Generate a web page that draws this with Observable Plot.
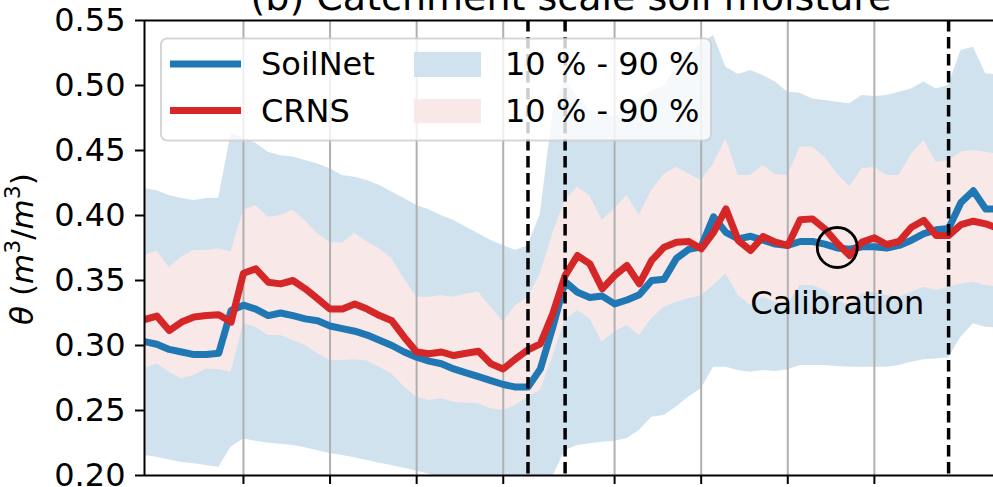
<!DOCTYPE html>
<html><head><meta charset="utf-8">
<script src="https://cdn.jsdelivr.net/npm/d3@7"></script>
<script src="https://cdn.jsdelivr.net/npm/@observablehq/plot@0.6"></script>
<style>
html,body{margin:0;padding:0;background:#fff;}
#wrap{position:relative;width:993px;height:487px;overflow:hidden;font-family:"DejaVu Sans",sans-serif;}
#overlay{position:absolute;left:0;top:0;pointer-events:none;}
</style></head><body>
<div id="wrap"></div>
<script>
// time step index (one point per sample)
const step = [0,1,2,3,4,5,6,7,8,9,10,11,12,13,14,15,16,17,18,19,20,21,22,23,24,25,26,27,28,29,30,31,32,33,34,35,36,37,38,39,40,41,42,43,44,45,46,47,48,49,50,51,52,53,54,55,56,57,58,59,60,61,62,63,64,65,66,67,68,69];

const soilNet = [0.303,0.301,0.297,0.295,0.293,0.293,0.294,0.327,0.331,0.328,0.323,0.325,0.323,0.3205,0.319,0.315,0.313,0.311,0.308,0.304,0.300,0.295,0.291,0.288,0.286,0.282,0.279,0.276,0.273,0.270,0.268,0.268,0.282,0.314,0.349,0.341,0.337,0.338,0.332,0.335,0.339,0.350,0.351,0.367,0.374,0.376,0.399,0.387,0.382,0.384,0.381,0.378,0.377,0.380,0.380,0.378,0.375,0.374,0.376,0.376,0.375,0.377,0.381,0.386,0.389,0.390,0.410,0.419,0.405,0.405];
const soilNetLo = [0.2154,0.214,0.212,0.210,0.209,0.2077,0.2064,0.2218,0.228,0.2264,0.2249,0.224,0.223,0.2213,0.219,0.217,0.2154,0.2136,0.2115,0.2095,0.2077,0.2056,0.2035,0.201,0.199,0.197,0.195,0.193,0.191,0.190,0.190,0.191,0.194,0.199,0.2192,0.223,0.2244,0.2256,0.2264,0.2282,0.2346,0.2449,0.2462,0.2526,0.2603,0.2667,0.2833,0.2833,0.2808,0.2795,0.2808,0.280,0.2813,0.2846,0.2846,0.2846,0.2838,0.2833,0.2833,0.2833,0.2833,0.2846,0.2872,0.289,0.2897,0.2905,0.3064,0.3167,0.314,0.3135];
const soilNetHi = [0.4205,0.419,0.4154,0.413,0.4115,0.413,0.4133,0.463,0.460,0.4556,0.4487,0.446,0.445,0.4423,0.4397,0.436,0.4308,0.4295,0.427,0.423,0.418,0.413,0.4077,0.4044,0.400,0.3962,0.391,0.386,0.3808,0.377,0.373,0.377,0.401,0.478,0.505,0.491,0.481,0.478,0.476,0.481,0.489,0.496,0.499,0.515,0.525,0.532,0.5385,0.514,0.5085,0.5115,0.5077,0.5026,0.4949,0.4941,0.4897,0.4885,0.4872,0.486,0.4923,0.4915,0.4923,0.4949,0.4974,0.5026,0.4974,0.500,0.527,0.5295,0.509,0.508];

const crns = [0.320,0.3226,0.3115,0.318,0.322,0.323,0.3236,0.318,0.3556,0.359,0.3487,0.3474,0.350,0.3436,0.336,0.328,0.328,0.332,0.328,0.323,0.319,0.3064,0.295,0.2936,0.295,0.2923,0.294,0.2956,0.286,0.282,0.2897,0.2967,0.3013,0.3244,0.3538,0.3692,0.3628,0.3436,0.3538,0.3615,0.3474,0.3654,0.3756,0.3795,0.380,0.3744,0.387,0.4051,0.3808,0.3731,0.3838,0.3795,0.377,0.3967,0.3974,0.3897,0.3787,0.3692,0.3795,0.3828,0.3777,0.380,0.391,0.3962,0.3846,0.3846,0.393,0.3956,0.3936,0.390];
const crnsLo = [0.282,0.286,0.2795,0.2744,0.277,0.282,0.2813,0.2795,0.3167,0.314,0.3077,0.3077,0.3038,0.300,0.2936,0.2885,0.2885,0.289,0.288,0.2833,0.278,0.268,0.2603,0.2577,0.259,0.2564,0.2556,0.2551,0.2513,0.250,0.2538,0.2603,0.2654,0.291,0.3192,0.327,0.3205,0.3026,0.3103,0.3154,0.3077,0.3205,0.3295,0.3333,0.3359,0.338,0.3462,0.355,0.3385,0.3308,0.3372,0.3333,0.332,0.3462,0.3462,0.3423,0.3346,0.3308,0.3397,0.341,0.3385,0.3372,0.341,0.3449,0.3423,0.3449,0.3474,0.3487,0.3462,0.345];
const crnsHi = [0.3692,0.3726,0.360,0.368,0.373,0.373,0.3744,0.372,0.404,0.4077,0.3987,0.400,0.404,0.396,0.386,0.3795,0.3787,0.3864,0.3795,0.3744,0.3667,0.3513,0.3372,0.3372,0.3385,0.3372,0.3397,0.341,0.3295,0.318,0.3308,0.3372,0.355,0.386,0.4115,0.4218,0.4154,0.3962,0.4051,0.4154,0.400,0.4192,0.4315,0.4372,0.432,0.427,0.4397,0.459,0.4308,0.4308,0.4385,0.4315,0.4308,0.4526,0.4526,0.4449,0.432,0.4223,0.4359,0.4372,0.4308,0.4308,0.4474,0.4577,0.441,0.4423,0.4487,0.450,0.4487,0.447];

const xTicks = [8, 15, 22, 29, 38, 45, 52, 59];
const yTicks = [0.20, 0.25, 0.30, 0.35, 0.40, 0.45, 0.50, 0.55];
const dashedAt = [31, 34, 65];
const calibPoint = [{x: 56, y: 0.3754}];
const calibLabel = [{x: 56, y: 0.3325, text: "Calibration"}];
const xDomain = [0, 68.63];
const yDomain = [0.20, 0.55];

const title = "(b) Catchment scale soil moisture";
const seriesNames = ["SoilNet", "CRNS"];
const bandName = "10 % - 90 %";

const blue = "#1f77b4", red = "#d62728";
const blueBand = "#d0e2ee", redBand = "#f8e8e8";

const data = step.map((s, k) => ({
  s, sn: soilNet[k], snLo: soilNetLo[k], snHi: soilNetHi[k],
  cr: crns[k], crLo: crnsLo[k], crHi: crnsHi[k]
}));

const plot = Plot.plot({
  width: 993, height: 487,
  marginLeft: 144, marginRight: 0, marginTop: 20, marginBottom: 12,
  style: {fontFamily: "DejaVu Sans", fontSize: "32px", background: "transparent", color: "#000"},
  x: {domain: xDomain},
  y: {domain: yDomain},
  marks: [
    Plot.areaY(data, {x: "s", y1: "snLo", y2: "snHi", fill: blueBand, clip: true}),
    Plot.areaY(data, {x: "s", y1: "crLo", y2: "crHi", fill: redBand, clip: true}),
    Plot.gridX({ticks: xTicks, stroke: "#b0b0b0", strokeOpacity: 1, strokeWidth: 2}),
    Plot.lineY(data, {x: "s", y: "sn", stroke: blue, strokeWidth: 7, strokeLinejoin: "round", clip: true}),
    Plot.lineY(data, {x: "s", y: "cr", stroke: red, strokeWidth: 7, strokeLinejoin: "round", clip: true}),
    Plot.ruleX(dashedAt, {stroke: "#000", strokeWidth: 3.5, strokeDasharray: "11.5,5.5"}),
    Plot.dot(calibPoint, {x: "x", y: "y", r: 20, stroke: "#000", strokeWidth: 2.8, fill: "none"}),
    Plot.text(calibLabel, {x: "x", y: "y", text: "text", fontSize: 32, textAnchor: "middle", fill: "#000"}),
    Plot.ruleX([xDomain[0]], {stroke: "#000", strokeWidth: 2}),
    Plot.ruleY(yDomain, {stroke: "#000", strokeWidth: 2}),
    Plot.axisY({ticks: yTicks, tickFormat: d3.format(".2f"), tickSize: 9, tickPadding: 10, strokeWidth: 2, fontSize: 32, label: null}),
    Plot.axisX({ticks: xTicks, tickFormat: () => "", tickSize: 9, strokeWidth: 2, label: null})
  ]
});

const wrap = document.getElementById("wrap");
wrap.appendChild(plot);

// overlay: title, y label, legend
const ov = d3.select(wrap).append("svg").attr("id", "overlay")
  .attr("width", 993).attr("height", 487)
  .style("font-family", "DejaVu Sans");

ov.append("text").attr("x", 571).attr("y", 10).attr("text-anchor", "middle")
  .attr("font-size", 38).text(title);

const yl = ov.append("text").attr("transform", "translate(33,249) rotate(-90)")
  .attr("text-anchor", "middle").attr("font-size", 31);
yl.append("tspan").attr("font-style", "italic").text("θ");
yl.append("tspan").text(" (");
yl.append("tspan").attr("font-style", "italic").text("m");
yl.append("tspan").attr("font-size", 22).attr("dy", -13).text("3");
yl.append("tspan").attr("dy", 13).text("/");
yl.append("tspan").attr("font-style", "italic").text("m");
yl.append("tspan").attr("font-size", 22).attr("dy", -13).text("3");
yl.append("tspan").attr("dy", 13).text(")");

const lg = ov.append("g");
lg.append("rect").attr("x", 161).attr("y", 38.5).attr("width", 550).attr("height", 102).attr("rx", 6)
  .attr("fill", "#fff").attr("fill-opacity", 0.8).attr("stroke", "#cccccc").attr("stroke-opacity", 0.8).attr("stroke-width", 2);
lg.append("line").attr("x1", 170).attr("x2", 241).attr("y1", 64).attr("y2", 64).attr("stroke", blue).attr("stroke-width", 7);
lg.append("line").attr("x1", 170).attr("x2", 241).attr("y1", 110.5).attr("y2", 110.5).attr("stroke", red).attr("stroke-width", 7);
lg.append("text").attr("x", 261).attr("y", 75).attr("font-size", 32).text(seriesNames[0]);
lg.append("text").attr("x", 261).attr("y", 121.5).attr("font-size", 32).text(seriesNames[1]);
lg.append("rect").attr("x", 414).attr("y", 52).attr("width", 67).attr("height", 25).attr("fill", blueBand);
lg.append("rect").attr("x", 414).attr("y", 99).attr("width", 67).attr("height", 24).attr("fill", redBand);
lg.append("text").attr("x", 505).attr("y", 75).attr("font-size", 32).text(bandName);
lg.append("text").attr("x", 505).attr("y", 121.5).attr("font-size", 32).text(bandName);
</script>
</body></html>
